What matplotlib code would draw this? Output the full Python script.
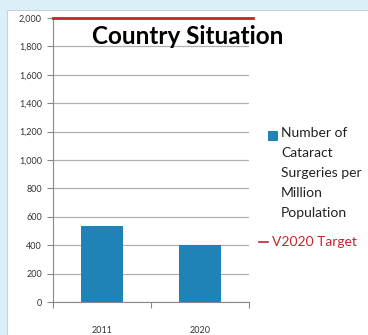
import matplotlib.pyplot as plt
from matplotlib.patches import Rectangle
from matplotlib.lines import Line2D

# datos de la grafica
anios = ['2011', '2020']
cirugias = [535, 400]
meta_v2020 = [2000, 2000]
yticks = [0, 200, 400, 600, 800, 1000, 1200, 1400, 1600, 1800, 2000]

plt.rcParams['font.family'] = ['Lato', 'DejaVu Sans']

fig = plt.figure(figsize=(3.68, 3.35), dpi=100)
fig.patch.set_facecolor('#dbeff8')

# panel blanco del grafico
fig.patches.append(Rectangle((7 / 368, 0), 1, 1 - 10 / 335, transform=fig.transFigure,
                             facecolor='white', edgecolor='#c8c8c8', linewidth=0.6, zorder=-5))

ax = fig.add_axes([53 / 368, 1 - 302 / 335, 196 / 368, 284 / 335])
ax.set_facecolor('none')

pos = [0.5, 1.5]
ax.bar(pos, cirugias, width=0.42, color='#1f83b8', zorder=3)
ax.plot([0, 2.04], meta_v2020, color='#c0272d', linewidth=2, clip_on=False, zorder=4)

ax.set_xlim(0, 2)
ax.set_ylim(0, 2000)
ax.set_yticks(yticks)
ax.set_yticklabels(['{:,}'.format(v) for v in yticks], fontsize=6.5, color='#333333')
ax.set_xticks([0, 1, 2])
ax.set_xticklabels([])
ax.set_xticks(pos, minor=True)
ax.set_xticklabels(anios, minor=True, fontsize=6.5, color='#333333')
ax.tick_params(axis='x', which='minor', length=0, pad=17)
ax.tick_params(axis='x', which='major', length=4, color='#888888', direction='out')
ax.tick_params(axis='y', length=4, color='#888888', pad=4)

ax.grid(axis='y', color='#b0b0b0', linewidth=0.9, zorder=0)
for s in ['top', 'right']:
    ax.spines[s].set_visible(False)
ax.spines['left'].set_color('#888888')
ax.spines['bottom'].set_color('#888888')

ax.text(0.5 * (90 + 285) / 368, 1 - 36 / 335, 'Country Situation', transform=fig.transFigure,
        ha='center', va='center', fontsize=17.5, fontweight='bold', color='black')

# leyenda
fig.patches.append(Rectangle((268 / 368, 1 - 141 / 335), 10 / 368, 10 / 335, transform=fig.transFigure,
                             facecolor='#1f83b8', edgecolor='none'))
ax.text(281 / 368, 1 - 127 / 335, 'Number of\nCataract\nSurgeries per\nMillion\nPopulation',
        transform=fig.transFigure, ha='left', va='top', fontsize=10, linespacing=1.8, color='#222222')
fig.lines.append(Line2D([259 / 368, 268 / 368], [1 - 242 / 335, 1 - 242 / 335], transform=fig.transFigure,
                        color='#c0272d', linewidth=1.2))
ax.text(272 / 368, 1 - 242 / 335, 'V2020 Target', transform=fig.transFigure,
        ha='left', va='center', fontsize=10, color='#c0272d')

fig.savefig('out.png', dpi=100, facecolor=fig.get_facecolor())
